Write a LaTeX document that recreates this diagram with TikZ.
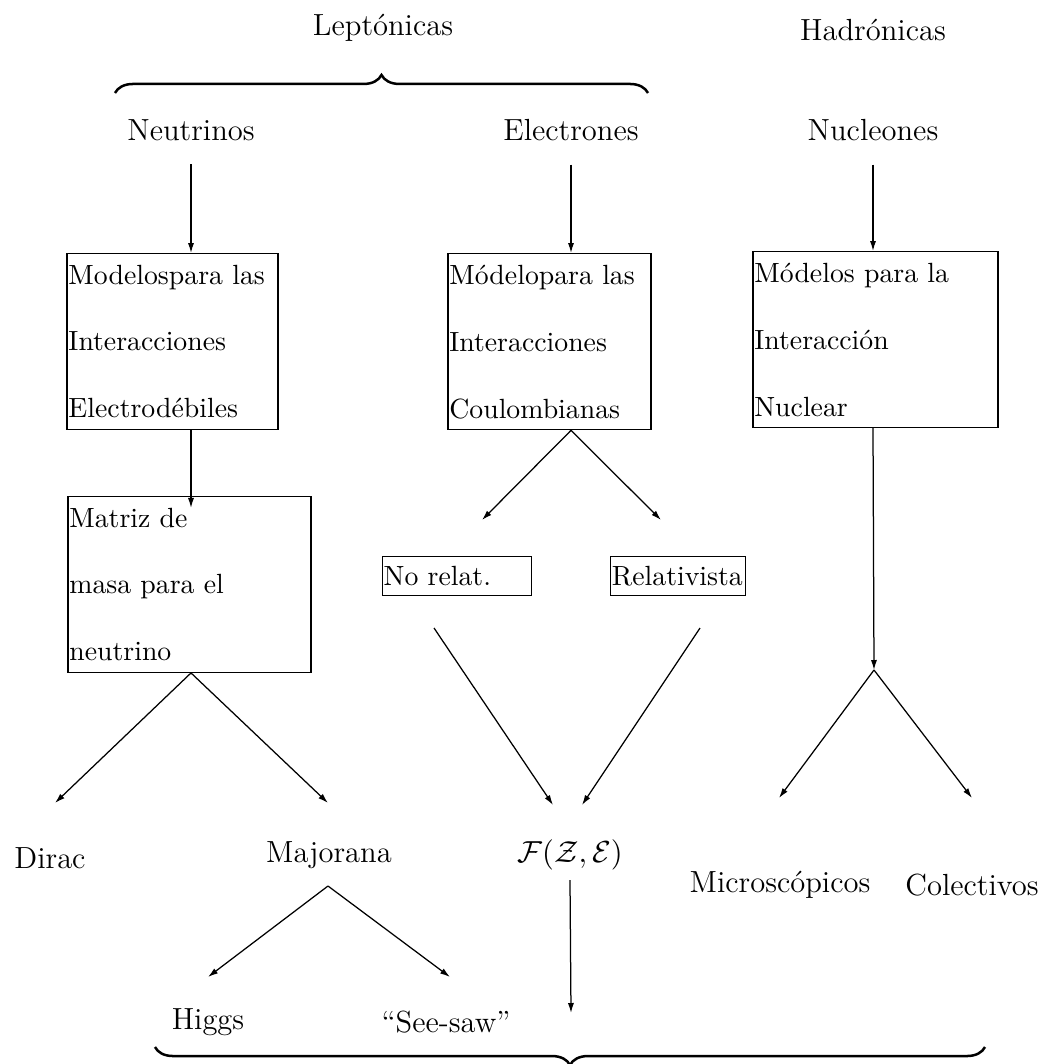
\documentclass[tikz,border=0pt]{standalone}
\usepackage{fontspec}
\usetikzlibrary{arrows.meta,decorations.pathreplacing}
\tikzset{
  bx/.style={draw, align=left, anchor=north, inner xsep=0.5pt, inner ysep=4pt,
    text width=#1, font=\fontsize{10}{24.1}\selectfont},
  sbx/.style={draw, align=left, inner xsep=0.5pt, inner ysep=1pt, text width=#1,
    minimum height=14pt},
  lbl/.style={font=\fontsize{11}{13}\selectfont},
  brc/.style={decorate, decoration={brace, amplitude=6.5pt}, line width=0.9pt},
}
\begin{document}
\begin{tikzpicture}[x=0.36pt, y=-0.36pt, line width=0.45pt,
    >={Latex[length=3.6pt,width=2.2pt]}]
  \useasboundingbox (0,0) rectangle (1051,1064);

  \node[lbl] (lep) at (383,28) {Leptónicas};
  \node[lbl] (had) at (873,30) {Hadrónicas};
  \coordinate (b1) at (115,93);
  \coordinate (b2) at (648,93);
  \draw[brc] (b1) -- (b2);

  \node[lbl] (neu) at (191,130) {Neutrinos};
  \node[lbl] (ele) at (571,130) {Electrones};
  \node[lbl] (nuc) at (873,130) {Nucleones};

  \node[bx=74.9pt] (m1) at (172.5,253) {Modelospara las\\Interacciones\\Electrodébiles};
  \node[bx=72.1pt] (m2) at (549.5,253) {Módelopara las\\Interacciones\\Coulombianas};
  \node[bx=87.2pt] (m3) at (875.5,251) {Módelos para la\\Interacción\\Nuclear};
  \node[bx=86.5pt] (m4) at (189.5,496) {Matriz de\\masa para el\\neutrino};

  \draw[->, shorten <=5pt] (neu.south) -- (neu |- m1.north);
  \draw[->, shorten <=5pt] (ele.south) -- (ele |- m2.north);
  \draw[->, shorten <=5pt] (nuc.south) -- (nuc |- m3.north);
  \draw[->] (neu |- m1.south) -- ([yshift=-4.3pt]neu |- m4.north);

  \node[sbx=52.8pt] (nr) at (457,576) {No relat.};
  \node[sbx=47.6pt] (rel) at (678,576) {Relativista};
  \coordinate (nr-t) at (482,520);
  \coordinate (rel-t) at (661,520);
  \draw[->] (ele |- m2.south) -- (nr-t);
  \draw[->] (ele |- m2.south) -- (rel-t);

  \node[lbl] (dir) at (50,858) {Dirac};
  \node[lbl] (maj) at (329,855) {Majorana};
  \node[lbl] (f) at (570,855) {$\mathcal{F}(\mathcal{Z},\mathcal{E})$};
  \node[lbl] (mic) at (780,885) {Microscópicos};
  \node[lbl] (col) at (972,885) {Colectivos};
  \node[lbl] (hig) at (208,1022) {Higgs};
  \node[lbl] (see) at (446,1022) {``See-saw''};

  \coordinate (dir-t) at (55,803);
  \coordinate (maj-t) at (328,803);
  \draw[->] (neu |- m4.south) -- (dir-t);
  \draw[->] (neu |- m4.south) -- (maj-t);

  \coordinate (nr-s) at (434,628);
  \coordinate (rel-s) at (700,628);
  \coordinate (f-t1) at (553,805);
  \coordinate (f-t2) at (582,805);
  \draw[->] (nr-s) -- (f-t1);
  \draw[->] (rel-s) -- (f-t2);

  \coordinate (nuc-a) at (874,670);
  \coordinate (mic-t) at (779,798);
  \coordinate (col-t) at (972,798);
  \draw[->] (nuc |- m3.south) -- (nuc-a);
  \draw[->] (nuc-a) -- (mic-t);
  \draw[->] (nuc-a) -- (col-t);

  \coordinate (maj-a) at (328,886);
  \coordinate (hig-t) at (208,977);
  \coordinate (see-t) at (450,977);
  \draw[->] (maj-a) -- (hig-t);
  \draw[->] (maj-a) -- (see-t);

  \coordinate (f-e) at (571,1013);
  \draw[->] (f.south) -- (f-e);

  \coordinate (b3) at (985,1047);
  \coordinate (b4) at (155,1047);
  \draw[brc] (b3) -- (b4);
\end{tikzpicture}
\end{document}
